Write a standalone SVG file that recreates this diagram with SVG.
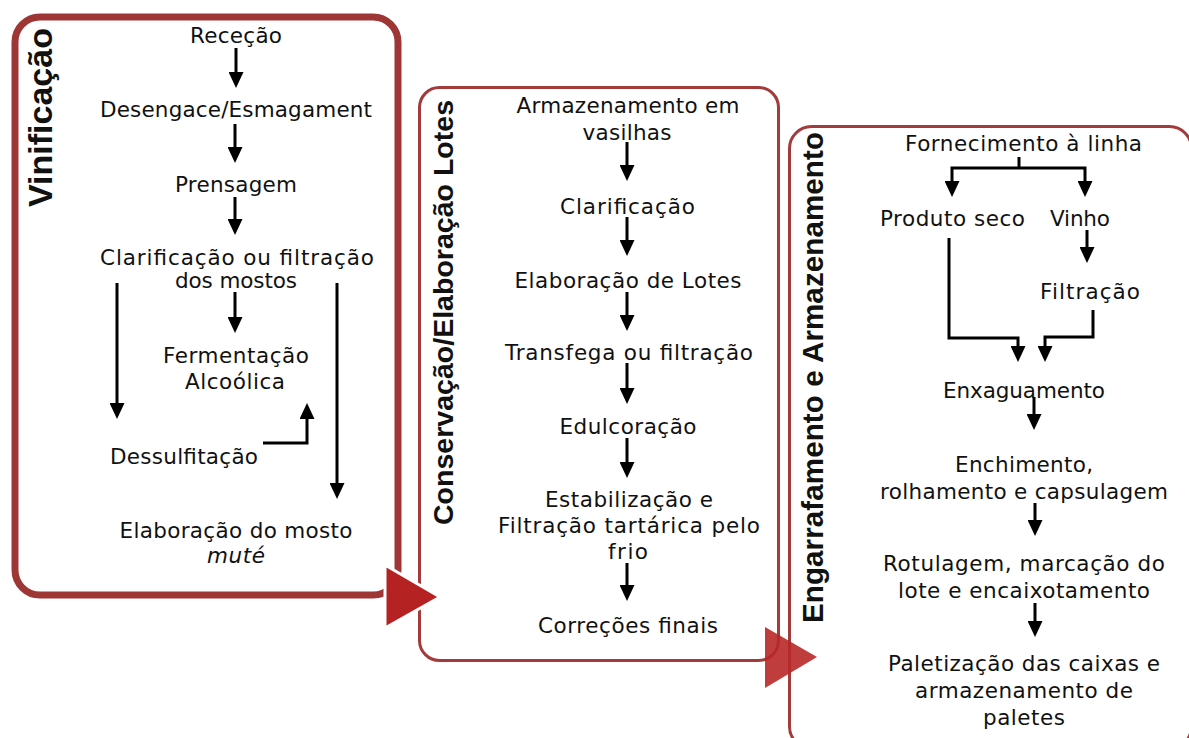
<svg xmlns="http://www.w3.org/2000/svg" width="1189" height="738" viewBox="0 0 1189 738">
<style>
.t{font-family:"DejaVu Sans",Verdana,sans-serif;font-size:21.5px;fill:#111;text-anchor:middle}
.i{font-style:italic}
.ttl{font-family:"Liberation Sans",Arial,sans-serif;font-weight:bold;fill:#111;text-anchor:middle}
.ln{fill:none;stroke:#000;stroke-width:3;marker-end:url(#ah)}
.pl{fill:none;stroke:#000;stroke-width:3}
</style>
<defs>
<marker id="ah" viewBox="0 0 16 15" refX="8" refY="7.5" markerWidth="16" markerHeight="15" markerUnits="userSpaceOnUse" orient="auto">
<path d="M0,0 L16,7.5 L0,15 z" fill="#000"/>
</marker>
</defs>
<rect width="1189" height="738" fill="#fff"/>

<g id="panel3">
<rect x="789.5" y="126.5" width="402" height="622" rx="22" fill="none" stroke="#a33b3b" stroke-width="3"/>
<text class="ttl" font-size="29.5" transform="translate(823,377.5) rotate(-90)" textLength="491">Engarrafamento e Armazenamento</text>
</g>
<g id="panel2">
<rect x="419.5" y="87.5" width="359" height="573" rx="20" fill="none" stroke="#a33b3b" stroke-width="3"/>
<text class="ttl" font-size="28.5" transform="translate(453,312.5) rotate(-90)" textLength="425">Conservação/Elaboração Lotes</text>
</g>
<g id="panel1">
<rect x="15" y="17" width="383" height="578" rx="25" fill="none" stroke="#9e3636" stroke-width="7"/>
<text class="ttl" font-size="34" transform="translate(52,117.5) rotate(-90)" textLength="179">Vinificação</text>
</g>
<g id="triangles">
<polygon points="385,565 440,597 385,628" fill="#b42222" stroke="#fff" stroke-width="3" stroke-linejoin="miter"/>
<polygon points="765,627 817,657 765,688" fill="#b82828" fill-opacity="0.9"/>
</g>

<g id="n-rececao"><text class="t" x="236" y="43" textLength="92">Receção</text></g>
<g id="n-desengace"><text class="t" x="236" y="117" textLength="272">Desengace/Esmagament</text></g>
<g id="n-prensagem"><text class="t" x="236" y="192" textLength="122">Prensagem</text></g>
<g id="n-clarif-mostos"><text class="t" x="237" y="265" textLength="274">Clarificação ou filtração</text><text class="t" x="236" y="288" textLength="122">dos mostos</text></g>
<g id="n-fermentacao"><text class="t" x="236" y="363" textLength="146">Fermentação</text><text class="t" x="235" y="389" textLength="100">Alcoólica</text></g>
<g id="n-dessulfitacao"><text class="t" x="184" y="464" textLength="148">Dessulfitação</text></g>
<g id="n-mosto-mute"><text class="t" x="236" y="538" textLength="233">Elaboração do mosto</text><text class="t i" x="236" y="563" textLength="58">muté</text></g>

<g id="n-armazenamento"><text class="t" x="628" y="113" textLength="223">Armazenamento em</text><text class="t" x="627" y="140" textLength="89">vasilhas</text></g>
<g id="n-clarificacao"><text class="t" x="627.5" y="214" textLength="135">Clarificação</text></g>
<g id="n-lotes"><text class="t" x="628" y="288" textLength="227">Elaboração de Lotes</text></g>
<g id="n-transfega"><text class="t" x="629" y="360" textLength="248">Transfega ou filtração</text></g>
<g id="n-edulcoracao"><text class="t" x="628" y="434" textLength="137">Edulcoração</text></g>
<g id="n-estabilizacao"><text class="t" x="629" y="507" textLength="168">Estabilização e</text><text class="t" x="629" y="533" textLength="262">Filtração tartárica pelo</text><text class="t" x="628" y="559" textLength="40">frio</text></g>
<g id="n-correcoes"><text class="t" x="628" y="633" textLength="180">Correções finais</text></g>

<g id="n-fornecimento"><text class="t" x="1023.5" y="151" textLength="237">Fornecimento à linha</text></g>
<g id="n-produto"><text class="t" x="952.5" y="226" textLength="145">Produto seco</text></g>
<g id="n-vinho"><text class="t" x="1080" y="226" textLength="60">Vinho</text></g>
<g id="n-filtracao"><text class="t" x="1090" y="299" textLength="100">Filtração</text></g>
<g id="n-enxaguamento"><text class="t" x="1024" y="398" textLength="162">Enxaguamento</text></g>
<g id="n-enchimento"><text class="t" x="1024" y="472" textLength="138">Enchimento,</text><text class="t" x="1024" y="499" textLength="288">rolhamento e capsulagem</text></g>
<g id="n-rotulagem"><text class="t" x="1024" y="571" textLength="282">Rotulagem, marcação do</text><text class="t" x="1024" y="598" textLength="252">lote e encaixotamento</text></g>
<g id="n-paletizacao"><text class="t" x="1024" y="671" textLength="272">Paletização das caixas e</text><text class="t" x="1024" y="698" textLength="218">armazenamento de</text><text class="t" x="1024" y="725" textLength="82">paletes</text></g>

<g id="connectors">
<line class="ln" x1="236" y1="48" x2="236" y2="80"/>
<line class="ln" x1="235" y1="124" x2="235" y2="155"/>
<line class="ln" x1="235" y1="197" x2="235" y2="227"/>
<line class="ln" x1="235" y1="292" x2="235" y2="325"/>
<line class="ln" x1="117" y1="283" x2="117" y2="411"/>
<line class="ln" x1="337" y1="283" x2="337" y2="491"/>
<path class="ln" d="M263,443 L307,443 L307,411"/>

<line class="ln" x1="627" y1="142" x2="627" y2="173"/>
<line class="ln" x1="627" y1="217" x2="627" y2="248"/>
<line class="ln" x1="627" y1="292" x2="627" y2="323"/>
<line class="ln" x1="627" y1="363" x2="627" y2="396"/>
<line class="ln" x1="627" y1="438" x2="627" y2="470"/>
<line class="ln" x1="627" y1="563" x2="627" y2="593"/>

<line class="pl" x1="1019" y1="157" x2="1019" y2="168"/>
<path class="ln" d="M1019,168 L952,168 L952,189"/>
<path class="ln" d="M1019,168 L1085,168 L1085,189"/>
<line class="ln" x1="1087" y1="230" x2="1087" y2="255"/>
<path class="ln" d="M949,238 L949,338 L1018,338 L1018,354"/>
<path class="ln" d="M1093,310 L1093,337 L1045,337 L1045,354"/>
<line class="ln" x1="1034" y1="397" x2="1034" y2="422"/>
<line class="ln" x1="1035" y1="503" x2="1035" y2="528"/>
<line class="ln" x1="1035" y1="603" x2="1035" y2="629"/>
</g>
</svg>
